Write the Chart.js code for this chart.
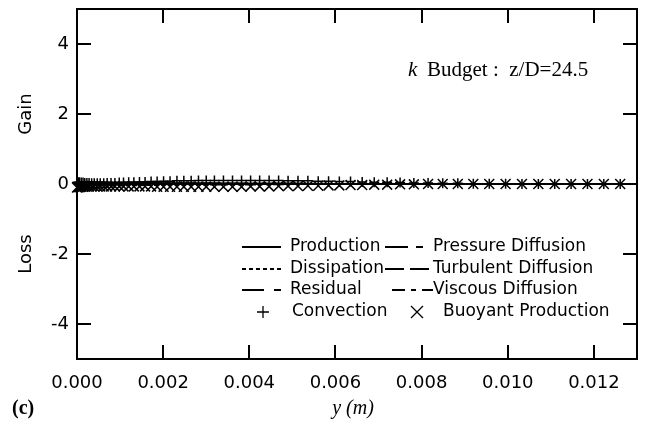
<!DOCTYPE html>
<html>
<head>
<meta charset="utf-8">
<script src="https://cdn.jsdelivr.net/npm/chart.js@4.4.1/dist/chart.umd.min.js"></script>
<style>
  html, body { margin: 0; padding: 0; background: #fff; }
  #wrap { width: 647px; height: 427px; }
</style>
</head>
<body>
<div id="wrap"><canvas id="c" width="647" height="427"></canvas></div>
<script>
// Radial positions of the computed budget terms (m)
const lineY = [0, 0.0002, 0.0005, 0.001, 0.0015, 0.002, 0.003, 0.004, 0.005, 0.006, 0.008, 0.010, 0.012, 0.013];

// Budget terms drawn as lines
const production          = [0.03, 0.06, 0.05, 0.04, 0.03, 0.02, 0.02, 0.01, 0.01, 0.00, 0.00, 0.00, 0.00, 0.00];
const dissipation         = [-0.08, -0.06, -0.05, -0.04, -0.03, -0.02, -0.01, -0.01, 0.00, 0.00, 0.00, 0.00, 0.00, 0.00];
const residual            = [0.02, 0.02, 0.01, 0.01, 0.01, 0.00, 0.00, 0.00, 0.00, 0.00, 0.00, 0.00, 0.00, 0.00];
const pressureDiffusion   = [-0.02, -0.02, -0.01, -0.01, 0.00, 0.00, 0.00, 0.00, 0.00, 0.00, 0.00, 0.00, 0.00, 0.00];
const turbulentDiffusion  = [0.04, 0.03, 0.02, 0.02, 0.01, 0.01, 0.01, 0.00, 0.00, 0.00, 0.00, 0.00, 0.00, 0.00];
const viscousDiffusion    = [0.05, 0.02, 0.01, 0.00, 0.00, 0.00, 0.00, 0.00, 0.00, 0.00, 0.00, 0.00, 0.00, 0.00];

// Grid points where convection and buoyant production are marked
const markerY = [
  0, 0.00003, 0.00006, 0.0001, 0.00014, 0.00018, 0.00023, 0.00028, 0.00034, 0.0004,
  0.00047, 0.00054, 0.00062, 0.0007, 0.00079, 0.00088, 0.00098, 0.00108,
  0.0012, 0.00132, 0.00145, 0.00158, 0.00172, 0.00186, 0.00201, 0.00216, 0.00232,
  0.00248, 0.00265, 0.00282, 0.003, 0.00319,
  0.0034, 0.00361, 0.00382, 0.00403, 0.00424, 0.00446, 0.00468, 0.0049, 0.00513,
  0.00536, 0.0056, 0.00584, 0.00609, 0.00635,
  0.00662, 0.0069, 0.0072, 0.0075, 0.00782, 0.00815, 0.00849, 0.00884, 0.0092,
  0.00957, 0.00995, 0.01033, 0.01071, 0.01109, 0.01147, 0.01185, 0.01223, 0.01261
];
const convection = [
  0.04, 0.05, 0.05, 0.04, 0.04, 0.03, 0.03, 0.03, 0.02, 0.02,
  0.02, 0.02, 0.02, 0.03, 0.03, 0.03, 0.04, 0.04,
  0.05, 0.05, 0.06, 0.06, 0.07, 0.07, 0.08, 0.08, 0.09,
  0.09, 0.09, 0.10, 0.10, 0.10,
  0.10, 0.10, 0.10, 0.10, 0.10, 0.10, 0.10, 0.09, 0.09,
  0.09, 0.08, 0.08, 0.07, 0.07,
  0.06, 0.05, 0.05, 0.04, 0.03, 0.03, 0.02, 0.02, 0.01,
  0.01, 0.01, 0.00, 0.00, 0.00, 0.00, 0.00, 0.00, 0.00
];
const buoyantProduction = [
  -0.10, -0.09, -0.09, -0.08, -0.08, -0.08, -0.07, -0.07, -0.07, -0.07,
  -0.07, -0.07, -0.07, -0.07, -0.07, -0.07, -0.07, -0.07,
  -0.07, -0.07, -0.07, -0.07, -0.07, -0.08, -0.08, -0.08, -0.08,
  -0.08, -0.08, -0.08, -0.08, -0.08,
  -0.08, -0.08, -0.08, -0.07, -0.07, -0.07, -0.06, -0.06, -0.06,
  -0.05, -0.05, -0.04, -0.04, -0.03,
  -0.03, -0.02, -0.02, -0.01, -0.01, 0.00, 0.00, 0.00, 0.00,
  0.00, 0.00, 0.00, 0.00, 0.00, 0.00, 0.00, 0.00, 0.00
];

// Axis ticks
const xTicks = [0, 0.002, 0.004, 0.006, 0.008, 0.010, 0.012];
const yTicks = [-4, -2, 0, 2, 4];

const SANS = '"DejaVu Sans", sans-serif';
const SERIF = '"Liberation Serif", "Times New Roman", serif';

function pts(xs, ys) { return xs.map((x, i) => ({ x: x, y: ys[i] })); }

const lineStyle = (label, values, dash) => ({
  label: label, data: pts(lineY, values), showLine: true, pointRadius: 0,
  borderColor: '#000', borderWidth: 2.2, borderDash: dash, fill: false
});

const datasets = [
  lineStyle('Production', production, []),
  lineStyle('Dissipation', dissipation, [4, 3]),
  lineStyle('Residual', residual, [22, 10, 7, 10]),
  lineStyle('Pressure Diffusion', pressureDiffusion, [23, 8, 7, 8]),
  lineStyle('Turbulent Diffusion', turbulentDiffusion, [19, 6]),
  lineStyle('Viscous Diffusion', viscousDiffusion, [13, 6, 5, 6]),
  { label: 'Convection', data: pts(markerY, convection), showLine: false,
    pointStyle: 'cross', pointRadius: 5, borderColor: '#000', backgroundColor: '#000',
    pointBorderWidth: 1.5, clip: false },
  { label: 'Buoyant Production', data: pts(markerY, buoyantProduction), showLine: false,
    pointStyle: 'crossRot', pointRadius: 7, borderColor: '#000', backgroundColor: '#000',
    pointBorderWidth: 1.5, clip: false }
];

// Frame, inward tick marks, legend and annotation text
const decorations = {
  id: 'decorations',
  afterDraw(chart) {
    const ctx = chart.ctx;
    const a = chart.chartArea;
    const xs = chart.scales.x, ys = chart.scales.y;
    ctx.save();
    ctx.strokeStyle = '#000';
    ctx.lineWidth = 2;
    ctx.setLineDash([]);
    ctx.strokeRect(a.left, a.top, a.right - a.left, a.bottom - a.top);
    const tl = 14;
    ctx.beginPath();
    xTicks.forEach(v => {
      const px = Math.round(xs.getPixelForValue(v));
      if (v > 0) {
        ctx.moveTo(px, a.bottom); ctx.lineTo(px, a.bottom - tl);
        ctx.moveTo(px, a.top); ctx.lineTo(px, a.top + tl);
      }
    });
    yTicks.forEach(v => {
      const py = Math.round(ys.getPixelForValue(v));
      if (v !== 0) {
        ctx.moveTo(a.left, py); ctx.lineTo(a.left + tl, py);
        ctx.moveTo(a.right, py); ctx.lineTo(a.right - tl, py);
      }
    });
    ctx.stroke();

    ctx.fillStyle = '#000';
    // side labels
    ctx.font = '18px ' + SANS;
    ctx.textAlign = 'center';
    ctx.textBaseline = 'middle';
    [['Gain', ys.getPixelForValue(2)], ['Loss', ys.getPixelForValue(-2)]].forEach(([t, y]) => {
      ctx.save();
      ctx.translate(26, y);
      ctx.rotate(-Math.PI / 2);
      ctx.fillText(t, 0, 0);
      ctx.restore();
    });

    // annotation
    ctx.textAlign = 'left';
    ctx.font = 'italic 21px ' + SERIF;
    ctx.fillText('k', 408, 70);
    ctx.font = '21px ' + SERIF;
    ctx.fillText('Budget :  z/D=24.5', 427, 70);

    // axis title and panel tag
    ctx.textAlign = 'center';
    ctx.font = 'italic 20px ' + SERIF;
    ctx.fillText('y (m)', (a.left + a.right) / 2 - 4, 409);
    ctx.textAlign = 'left';
    ctx.font = 'bold 20px ' + SERIF;
    ctx.fillText('(c)', 12, 409);

    // legend
    ctx.font = '17px ' + SANS;
    ctx.textBaseline = 'middle';
    const ds = chart.data.datasets;
    const rows = [247, 269, 290, 312];
    const sample = (d, x0, x1, y) => {
      ctx.beginPath();
      ctx.lineWidth = 1.8;
      ctx.setLineDash(d.borderDash || []);
      ctx.moveTo(x0, y); ctx.lineTo(x1, y);
      ctx.stroke();
      ctx.setLineDash([]);
    };
    sample(ds[0], 242, 281, rows[0]); ctx.fillText(ds[0].label, 290, rows[0]);
    sample(ds[1], 242, 281, rows[1]); ctx.fillText(ds[1].label, 290, rows[1]);
    sample(ds[2], 242, 281, rows[2]); ctx.fillText(ds[2].label, 290, rows[2]);
    sample(ds[3], 385, 430, rows[0]); ctx.fillText(ds[3].label, 433, rows[0]);
    sample(ds[4], 385, 430, rows[1]); ctx.fillText(ds[4].label, 433, rows[1]);
    sample(ds[5], 392, 433, rows[2]); ctx.fillText(ds[5].label, 433, rows[2]);
    ctx.lineWidth = 1.3;
    ctx.beginPath();
    ctx.moveTo(257, rows[3]); ctx.lineTo(269, rows[3]);
    ctx.moveTo(263, rows[3] - 6); ctx.lineTo(263, rows[3] + 6);
    ctx.moveTo(411, rows[3] - 6); ctx.lineTo(423, rows[3] + 6);
    ctx.moveTo(411, rows[3] + 6); ctx.lineTo(423, rows[3] - 6);
    ctx.stroke();
    ctx.fillText(ds[6].label, 292, rows[3]);
    ctx.fillText(ds[7].label, 443, rows[3]);
    ctx.restore();
  }
};

new Chart(document.getElementById('c'), {
  type: 'scatter',
  data: { datasets: datasets },
  options: {
    responsive: false,
    animation: false,
    events: [],
    layout: { padding: { top: 9, right: 10, left: 0, bottom: 0 } },
    plugins: { legend: { display: false }, tooltip: { enabled: false } },
    scales: {
      x: {
        type: 'linear', min: 0, max: 0.013,
        afterBuildTicks: s => { s.ticks = xTicks.map(v => ({ value: v })); },
        afterFit: s => { s.height = 68; s.paddingLeft = 0; s.paddingRight = 0; },
        grid: { display: false, drawTicks: false },
        border: { display: false },
        ticks: {
          color: '#000', padding: 14, maxRotation: 0, autoSkip: false,
          font: { family: SANS, size: 18 },
          callback: v => Number(v).toFixed(3)
        }
      },
      y: {
        type: 'linear', min: -5, max: 5,
        afterBuildTicks: s => { s.ticks = yTicks.map(v => ({ value: v })); },
        afterFit: s => { s.width = 77; s.paddingTop = 0; s.paddingBottom = 0; },
        grid: { display: false, drawTicks: false },
        border: { display: false },
        ticks: {
          color: '#000', padding: 8, autoSkip: false,
          font: { family: SANS, size: 18 },
          callback: v => String(v)
        }
      }
    }
  },
  plugins: [decorations]
});
</script>
</body>
</html>
